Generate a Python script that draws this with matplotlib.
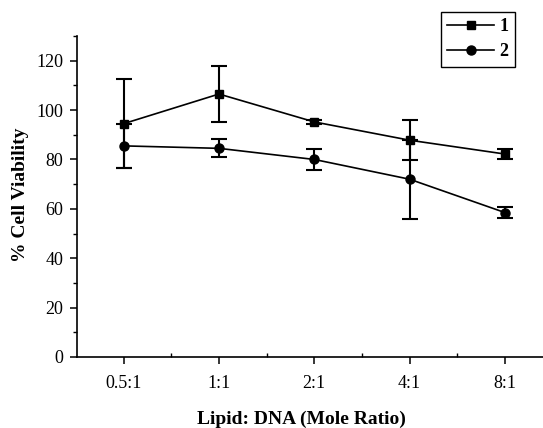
import matplotlib
matplotlib.use("Agg")
import matplotlib.pyplot as plt
from matplotlib.ticker import MultipleLocator, FixedLocator

ratios = ["0.5:1", "1:1", "2:1", "4:1", "8:1"]
viab1 = [94.5, 106.5, 95.2, 87.8, 82.2]
err1 = [18.0, 11.2, 0.8, 8.0, 1.9]
viab2 = [85.5, 84.5, 80.0, 72.0, 58.5]
err2 = [9.0, 3.6, 4.3, 16.0, 2.3]

plt.rcParams["font.family"] = ["Liberation Serif", "DejaVu Serif"]

fig = plt.figure(figsize=(5.43, 4.28), dpi=100)
ax = fig.add_axes([0.1418, 0.1659, 0.8582, 0.75])

x = list(range(len(ratios)))
ax.errorbar(x, viab1, yerr=err1, color="black", marker="s", markersize=5.5,
            linewidth=1.2, elinewidth=1.5, capsize=6, capthick=1.5, label="1")
ax.errorbar(x, viab2, yerr=err2, color="black", marker="o", markersize=6.5,
            linewidth=1.2, elinewidth=1.5, capsize=6, capthick=1.5, label="2")

ax.set_xlim(-0.49, 4.4)
ax.set_ylim(0, 130)
ax.set_xticks(x)
ax.set_xticklabels(ratios)
ax.xaxis.set_minor_locator(FixedLocator([0.5, 1.5, 2.5, 3.5]))
ax.set_yticks(range(0, 121, 20))
ax.yaxis.set_minor_locator(MultipleLocator(10))
ax.tick_params(axis="both", which="major", direction="out", length=5, width=1.1,
               labelsize=13, pad=5)
ax.tick_params(axis="y", which="minor", direction="out", length=3, width=1.0)
ax.tick_params(axis="x", which="minor", direction="in", length=3, width=1.0)
ax.tick_params(axis="x", which="major", pad=8)

for side in ["top", "right"]:
    ax.spines[side].set_visible(False)
for side in ["left", "bottom"]:
    ax.spines[side].set_linewidth(1.2)

fig.text(301 / 543, 1 - 419 / 428, "Lipid: DNA (Mole Ratio)", ha="center", va="center",
         fontsize=14, fontweight="bold")
fig.text(21 / 543, 1 - 195 / 428, "% Cell Viability", ha="center", va="center",
         rotation=90, fontsize=14, fontweight="bold")

handles, labels = ax.get_legend_handles_labels()
handles = [h[0] for h in handles]
leg = fig.legend(handles, labels, loc="upper left", bbox_to_anchor=(441 / 543, 1 - 12 / 428),
                 frameon=True, fancybox=False, edgecolor="black", framealpha=1,
                 handlelength=2.6, borderpad=0.35, labelspacing=0.45, handletextpad=0.3,
                 borderaxespad=0, prop={"weight": "bold", "size": 13})
leg.get_frame().set_linewidth(1.0)

fig.savefig("out.png", dpi=100)
